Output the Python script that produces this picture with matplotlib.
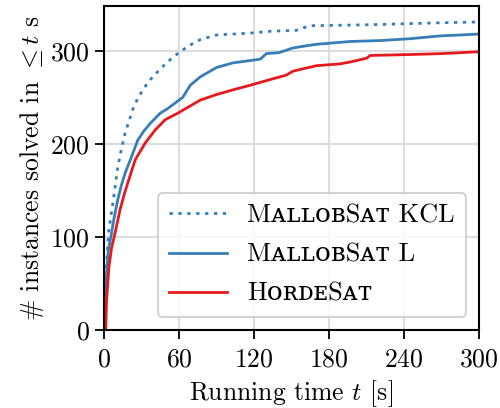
import numpy as np
import matplotlib
matplotlib.use("Agg")
import matplotlib.pyplot as plt

# values (time in s, cumulative # solved)
t_kcl = [0.3, 1, 2, 3.5, 5.5, 7.5, 11, 14, 17, 23, 27, 32, 37, 44, 50, 57, 63, 70, 77, 90,
         117, 133, 154, 160, 167, 213, 266, 300]
y_kcl = [0, 32, 68, 104, 122, 140, 175, 195, 212, 237, 249, 260, 269, 279, 287, 295, 301, 307,
         312, 317, 319, 321, 322, 325, 327, 328, 330, 331]

t_l = [0.5, 1, 2, 3.5, 6, 8, 11, 14, 17, 22, 27, 32, 37, 45, 51, 57, 63, 69, 77, 90, 103,
       125, 130, 140, 151, 160, 170, 197, 221, 245, 269, 285, 300]
y_l = [0, 30, 60, 86, 104, 120, 140, 156, 169, 186, 204, 214, 222, 233, 238, 244, 250, 263,
       272, 282, 287, 291, 297, 298, 303, 305, 307, 310, 311, 313, 316, 317, 318]

t_horde = [1.4, 2, 3, 4, 6, 8.8, 12.8, 16, 19, 25, 33, 41, 49, 59, 68, 77, 90, 103, 117, 130,
           146, 151, 157, 170, 189, 197, 210, 213, 245, 270, 300]
y_horde = [0, 30, 50, 68, 88, 104, 129, 145, 158, 183, 201, 215, 226, 233, 240, 247, 253, 258,
           263, 268, 274, 278, 280, 284, 286, 288, 292, 295, 296, 297, 299]

labels = ["M\u1d00\u029f\u029f\u1d0f\u0299S\u1d00\u1d1b KCL",
          "M\u1d00\u029f\u029f\u1d0f\u0299S\u1d00\u1d1b L",
          "H\u1d0f\u0280\u1d05\u1d07S\u1d00\u1d1b"]
xticks = [0, 60, 120, 180, 240, 300]
yticks = [0, 100, 200, 300]

plt.rcParams.update({
    "font.family": ["cmr10", "DejaVu Serif"],
    "mathtext.fontset": "cm",
    "axes.formatter.use_mathtext": True,
    "font.size": 18.5,
})

blue = "#377eb8"
red = "#e41a1c"

fig = plt.figure(figsize=(5.0, 4.08), dpi=100)
ax = fig.add_axes([0.208, 0.191, 0.75, 0.794])

ax.plot(t_kcl, y_kcl, color=blue, lw=2.0, ls=(0, (1.2, 2.0)), label=labels[0])
ax.plot(t_l, y_l, color=blue, lw=2.0, label=labels[1])
ax.plot(t_horde, y_horde, color=red, lw=2.0, label=labels[2])

ax.set_xlim(0, 300)
ax.set_ylim(0, 348)
ax.set_xticks(xticks)
ax.set_yticks(yticks)
ax.grid(True, color="#dddddd", lw=1.5)
ax.set_axisbelow(True)
for s in ax.spines.values():
    s.set_linewidth(1.5)
    s.set_color("black")
ax.tick_params(direction="out", length=6.5, width=1.3, color="black", pad=4)
ax.tick_params(axis="x", pad=6)

ax.set_xlabel(r"Running time $t$ [s]", labelpad=5)
ax.set_ylabel(r"# instances solved in $\leq t$ s", labelpad=3)

leg = ax.legend(loc="lower right", handlelength=2.2, borderaxespad=0.5, fancybox=True,
                framealpha=0.85, edgecolor="#cccccc", labelspacing=0.58,
                handletextpad=0.75, borderpad=0.42, prop={"size": 19})
leg.get_frame().set_linewidth(1.5)

fig.savefig("out.png", dpi=100)
